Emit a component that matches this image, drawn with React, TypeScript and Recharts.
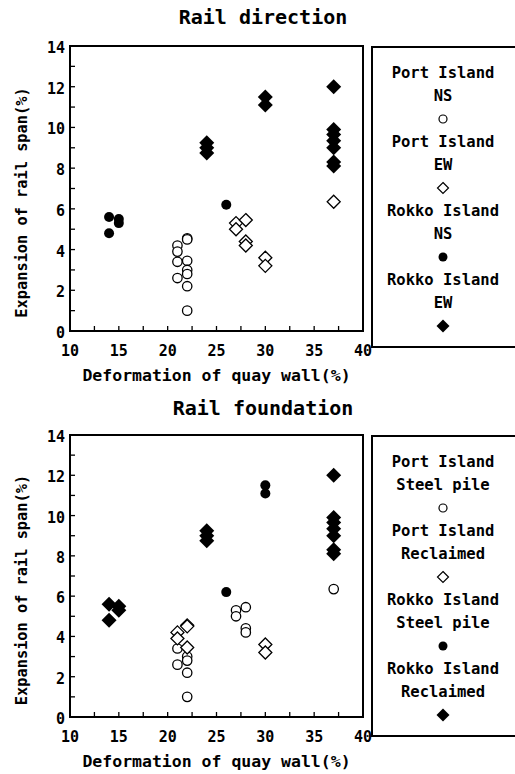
import React from 'react';
import { ScatterChart, Scatter, XAxis, YAxis, ReferenceArea, Legend } from 'recharts';

const FONT = '"DejaVu Sans Mono", "Liberation Mono", monospace';

type Pt = { x: number; y: number };

// ---- Rail direction ----
const portIslandNS: Pt[] = [
  { x: 21, y: 4.2 }, { x: 21, y: 3.9 }, { x: 21, y: 3.4 }, { x: 21, y: 2.6 },
  { x: 22, y: 4.55 }, { x: 22, y: 4.5 }, { x: 22, y: 3.45 }, { x: 22, y: 3.0 },
  { x: 22, y: 2.8 }, { x: 22, y: 2.2 }, { x: 22, y: 1.0 },
];
const portIslandEW: Pt[] = [
  { x: 27, y: 5.3 }, { x: 27, y: 5.0 }, { x: 28, y: 5.45 }, { x: 28, y: 4.4 },
  { x: 28, y: 4.2 }, { x: 30, y: 3.6 }, { x: 30, y: 3.2 }, { x: 37, y: 6.35 },
];
const rokkoIslandNS: Pt[] = [
  { x: 14, y: 5.6 }, { x: 14, y: 4.8 }, { x: 15, y: 5.5 }, { x: 15, y: 5.3 }, { x: 26, y: 6.2 },
];
const rokkoIslandEW: Pt[] = [
  { x: 24, y: 9.25 }, { x: 24, y: 9.0 }, { x: 24, y: 8.75 }, { x: 30, y: 11.5 }, { x: 30, y: 11.1 },
  { x: 37, y: 12.0 }, { x: 37, y: 9.9 }, { x: 37, y: 9.65 }, { x: 37, y: 9.35 }, { x: 37, y: 9.0 },
  { x: 37, y: 8.3 }, { x: 37, y: 8.1 },
];

// ---- Rail foundation ----
const portIslandSteel: Pt[] = [
  { x: 21, y: 3.4 }, { x: 21, y: 2.6 }, { x: 22, y: 3.0 }, { x: 22, y: 2.8 }, { x: 22, y: 2.2 },
  { x: 22, y: 1.0 }, { x: 27, y: 5.3 }, { x: 27, y: 5.0 }, { x: 28, y: 5.45 }, { x: 28, y: 4.4 },
  { x: 28, y: 4.2 }, { x: 37, y: 6.35 },
];
const portIslandReclaimed: Pt[] = [
  { x: 21, y: 4.2 }, { x: 21, y: 3.9 }, { x: 22, y: 4.55 }, { x: 22, y: 4.5 }, { x: 22, y: 3.45 },
  { x: 30, y: 3.6 }, { x: 30, y: 3.2 },
];
const rokkoIslandSteel: Pt[] = [
  { x: 26, y: 6.2 }, { x: 30, y: 11.5 }, { x: 30, y: 11.1 },
];
const rokkoIslandReclaimed: Pt[] = [
  { x: 14, y: 5.6 }, { x: 14, y: 4.8 }, { x: 15, y: 5.5 }, { x: 15, y: 5.3 },
  { x: 24, y: 9.25 }, { x: 24, y: 9.0 }, { x: 24, y: 8.75 },
  { x: 37, y: 12.0 }, { x: 37, y: 9.9 }, { x: 37, y: 9.65 }, { x: 37, y: 9.35 }, { x: 37, y: 9.0 },
  { x: 37, y: 8.3 }, { x: 37, y: 8.1 },
];

const xTicks = [10, 12.5, 15, 17.5, 20, 22.5, 25, 27.5, 30, 32.5, 35, 37.5, 40];
const xTickLabels = [10, 15, 20, 25, 30, 35, 40];
const yTicks = [0, 1, 2, 3, 4, 5, 6, 7, 8, 9, 10, 11, 12, 13, 14];
const yTickLabels = [0, 2, 4, 6, 8, 10, 12, 14];

const titleTop = 'Rail direction';
const titleBottom = 'Rail foundation';
const xLabel = 'Deformation of quay wall(%)';
const yLabel = 'Expansion of rail span(%)';

const legendTop = [
  { l1: 'Port Island', l2: 'NS', m: 'oc' },
  { l1: 'Port Island', l2: 'EW', m: 'od' },
  { l1: 'Rokko Island', l2: 'NS', m: 'fc' },
  { l1: 'Rokko Island', l2: 'EW', m: 'fd' },
];
const legendBottom = [
  { l1: 'Port Island', l2: 'Steel pile', m: 'oc' },
  { l1: 'Port Island', l2: 'Reclaimed', m: 'od' },
  { l1: 'Rokko Island', l2: 'Steel pile', m: 'fc' },
  { l1: 'Rokko Island', l2: 'Reclaimed', m: 'fd' },
];

const diamond = (cx: number, cy: number, s: number) =>
  `${cx},${cy - s} ${cx + s},${cy} ${cx},${cy + s} ${cx - s},${cy}`;

const OpenCircle = (p: any) => (
  <circle cx={p.cx} cy={p.cy} r={4.7} fill="#fff" stroke="#000" strokeWidth={1.3} />
);
const FilledCircle = (p: any) => <circle cx={p.cx} cy={p.cy} r={5} fill="#000" />;
const OpenDiamond = (p: any) => (
  <polygon points={diamond(p.cx, p.cy, 6.5)} fill="#fff" stroke="#000" strokeWidth={1.3} />
);
const FilledDiamond = (p: any) => <polygon points={diamond(p.cx, p.cy, 7.5)} fill="#000" />;

const XTick = (props: any) => {
  const { x, y, payload } = props;
  const v = payload.value;
  return (
    <g>
      <line x1={x} y1={y} x2={x} y2={y - 5} stroke="#000" strokeWidth={1.3} />
      {xTickLabels.includes(v) && (
        <text x={x} y={y + 25} textAnchor="middle" fontFamily={FONT} fontSize={15} fontWeight="bold" fill="#000">
          {v}
        </text>
      )}
    </g>
  );
};

const YTickLeft = (props: any) => {
  const { x, y, payload } = props;
  const v = payload.value;
  return (
    <g>
      <line x1={x} y1={y} x2={x + 5} y2={y} stroke="#000" strokeWidth={1.3} />
      {yTickLabels.includes(v) && (
        <text x={x - 5} y={y + 7} textAnchor="end" fontFamily={FONT} fontSize={15} fontWeight="bold" fill="#000">
          {v}
        </text>
      )}
    </g>
  );
};

const YTickRight = (props: any) => {
  const { x, y } = props;
  return <line x1={x} y1={y} x2={x - 4} y2={y} stroke="#000" strokeWidth={1} />;
};

const XLabel = (props: any) => {
  const vb = props.viewBox || { x: 70, y: 331, width: 293 };
  return (
    <text x={vb.x + vb.width / 2} y={vb.y + 50} textAnchor="middle" fontFamily={FONT} fontSize={16.5} fontWeight="bold" fill="#000">
      {xLabel}
    </text>
  );
};

const YLabel = (props: any) => {
  const vb = props.viewBox || { x: 0, y: 46, height: 285 };
  const cx = vb.x + 22;
  const cy = vb.y + vb.height / 2 + 14;
  return (
    <text x={cx} y={cy} dy={5} textAnchor="middle" transform={`rotate(-90 ${cx} ${cy})`} fontFamily={FONT} fontSize={15.3} fontWeight="bold" fill="#000">
      {yLabel}
    </text>
  );
};

const Marker = ({ m, cx, cy }: { m: string; cx: number; cy: number }) => {
  if (m === 'oc') return <circle cx={cx} cy={cy} r={4} fill="#fff" stroke="#000" strokeWidth={1.2} />;
  if (m === 'fc') return <circle cx={cx} cy={cy} r={4.5} fill="#000" />;
  if (m === 'od') return <polygon points={diamond(cx, cy, 5.5)} fill="#fff" stroke="#000" strokeWidth={1.2} />;
  return <polygon points={diamond(cx, cy, 6.5)} fill="#000" />;
};

const makeLegend = (items: { l1: string; l2: string; m: string }[]) => () => (
  <div style={{ width: 144, height: 302, boxSizing: 'border-box', borderLeft: '2px solid #000', borderTop: '2px solid #000', borderBottom: '2px solid #000' }}>
    <svg width={142} height={298} style={{ display: 'block' }}>
      {items.map((it, i) => {
        const base = 25 + i * 69;
        return (
          <g key={i}>
            <text x={70} y={base + 5} textAnchor="middle" fontFamily={FONT} fontSize={15.5} fontWeight="bold" fill="#000">{it.l1}</text>
            <text x={70} y={base + 28} textAnchor="middle" fontFamily={FONT} fontSize={15.5} fontWeight="bold" fill="#000">{it.l2}</text>
            <Marker m={it.m} cx={70} cy={base + 46} />
          </g>
        );
      })}
    </svg>
  </div>
);

const Panel = ({ height, xAxisHeight, series, legend }: any) => (
  <ScatterChart width={515} height={height} margin={{ top: 46, right: 152, bottom: 0, left: 0 }}>
    <XAxis
      type="number"
      dataKey="x"
      domain={[10, 40]}
      ticks={xTicks}
      interval={0}
      height={xAxisHeight}
      axisLine={false}
      tickLine={false}
      tickSize={0}
      tickMargin={0}
      tick={<XTick />}
      label={<XLabel />}
      allowDataOverflow
    />
    <YAxis
      yAxisId="left"
      type="number"
      dataKey="y"
      domain={[0, 14]}
      ticks={yTicks}
      interval={0}
      width={70}
      axisLine={false}
      tickLine={false}
      tickSize={0}
      tickMargin={0}
      tick={<YTickLeft />}
      label={<YLabel />}
      allowDataOverflow
    />
    <YAxis
      yAxisId="right"
      orientation="right"
      type="number"
      domain={[0, 14]}
      ticks={yTicks}
      interval={0}
      width={0}
      axisLine={false}
      tickLine={false}
      tickSize={0}
      tickMargin={0}
      tick={<YTickRight />}
      allowDataOverflow
    />
    <ReferenceArea yAxisId="left" x1={10} x2={40} y1={0} y2={14} fill="none" fillOpacity={0} stroke="#000" strokeWidth={2} ifOverflow="visible" />
    {series.map((s: any) => (
      <Scatter key={s.name} name={s.name} yAxisId="left" data={s.data} shape={s.shape} isAnimationActive={false} />
    ))}
    <Legend
      layout="vertical"
      align="center"
      verticalAlign="middle"
      wrapperStyle={{ left: 371, top: 46, width: 144, height: 302 }}
      content={makeLegend(legend)}
    />
  </ScatterChart>
);

const titleStyle = (top: number): React.CSSProperties => ({
  position: 'absolute',
  left: 113,
  width: 300,
  top,
  textAlign: 'center',
  fontFamily: FONT,
  fontSize: 20,
  fontWeight: 'bold',
  lineHeight: '20px',
  color: '#000',
});

export default function App() {
  const topSeries = [
    { name: 'Port Island NS', data: portIslandNS, shape: OpenCircle },
    { name: 'Port Island EW', data: portIslandEW, shape: OpenDiamond },
    { name: 'Rokko Island NS', data: rokkoIslandNS, shape: FilledCircle },
    { name: 'Rokko Island EW', data: rokkoIslandEW, shape: FilledDiamond },
  ];
  const bottomSeries = [
    { name: 'Port Island Steel pile', data: portIslandSteel, shape: OpenCircle },
    { name: 'Port Island Reclaimed', data: portIslandReclaimed, shape: OpenDiamond },
    { name: 'Rokko Island Steel pile', data: rokkoIslandSteel, shape: FilledCircle },
    { name: 'Rokko Island Reclaimed', data: rokkoIslandReclaimed, shape: FilledDiamond },
  ];
  return (
    <div style={{ position: 'absolute', left: 0, top: 0, width: 515, height: 774, background: '#fff', overflow: 'hidden' }}>
      <div style={titleStyle(7)}>{titleTop}</div>
      <div style={{ position: 'absolute', left: 0, top: 0 }}>
        <Panel height={389} xAxisHeight={58} series={topSeries} legend={legendTop} />
      </div>
      <div style={titleStyle(398)}>{titleBottom}</div>
      <div style={{ position: 'absolute', left: 0, top: 389 }}>
        <Panel height={385} xAxisHeight={57} series={bottomSeries} legend={legendBottom} />
      </div>
    </div>
  );
}
